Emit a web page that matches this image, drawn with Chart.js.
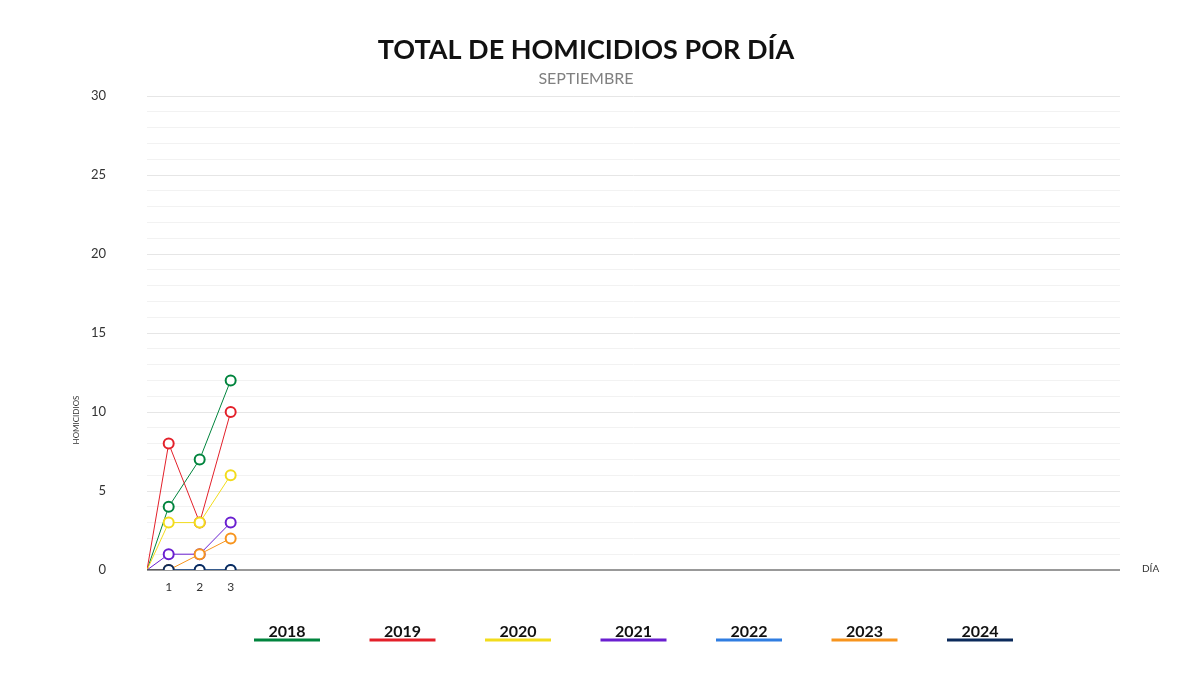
<!DOCTYPE html>
<html lang="es">

<head>
  <meta charset="UTF-8" />
  <title>Total de homicidios por día</title>
  <style>
    html, body { margin: 0; padding: 0; background: #fff; }
    #wrap { width: 1200px; height: 675px; }
  </style>
</head>

<body>
  <div id="wrap"><canvas id="myChart"></canvas></div>

  <script src="https://cdn.jsdelivr.net/npm/chart.js"></script>

  <script>
    // data
    const days = [1, 2, 3];
    const years = ["2018", "2019", "2020", "2021", "2022", "2023", "2024"];
    const colors = ["#00843d", "#e3202a", "#f2dc1c", "#6a1fd0", "#2f7de1", "#f7941d", "#0b2a5b"];
    const v2018 = [4, 7, 12];
    const v2019 = [8, 3, 10];
    const v2020 = [3, 3, 6];
    const v2021 = [1, 1, 3];
    const v2022 = [0, 0, 0];
    const v2023 = [0, 1, 2];
    const v2024 = [0, 0, 0];
    const yTicks = [0, 5, 10, 15, 20, 25, 30];

    const series = [v2018, v2019, v2020, v2021, v2022, v2023, v2024];
    const X_MIN = 0.3;
    const X_MAX = 31.7;
    const FONT = "Lato, 'Open Sans', sans-serif";

    const datasets = series.map((vals, i) => ({
      label: years[i],
      data: [{ x: X_MIN, y: 0 }].concat(days.map((d, j) => ({ x: d, y: vals[j] }))),
      borderColor: colors[i],
      borderWidth: 1,
      pointBorderColor: colors[i],
      pointBackgroundColor: "#fff",
      pointBorderWidth: 2,
      pointRadius: (c) => (c.dataIndex === 0 ? 0 : 5),
      tension: 0,
      order: series.length - 1 - i,
    }));

    // headings, axis names and the legend under the plot
    const decorations = {
      id: "decorations",
      afterDraw(chart) {
        const c = chart.ctx;
        const area = chart.chartArea;
        c.save();
        c.textAlign = "center";
        c.textBaseline = "middle";
        c.fillStyle = "#111";
        c.font = "bold 27px " + FONT;
        c.fillText("TOTAL DE HOMICIDIOS POR DÍA", 586, 50);
        c.fillStyle = "#808080";
        c.font = "16px " + FONT;
        c.fillText("SEPTIEMBRE", 586, 79);

        c.fillStyle = "#333";
        c.font = "10px " + FONT;
        c.textAlign = "left";
        c.fillText("DÍA", area.right + 22, area.bottom - 1);

        c.save();
        c.translate(76, 420);
        c.rotate(-Math.PI / 2);
        c.textAlign = "center";
        c.font = "8px " + FONT;
        c.fillText("HOMICIDIOS", 0, 0);
        c.restore();

        const mid = (area.left + area.right) / 2;
        const step = 115.5;
        years.forEach((y, i) => {
          const cx = mid + (i - (years.length - 1) / 2) * step;
          c.fillStyle = "#111";
          c.font = "bold 16px " + FONT;
          c.textAlign = "center";
          c.textBaseline = "alphabetic";
          c.fillText(y, cx, 637);
          c.strokeStyle = colors[i];
          c.lineWidth = 3;
          c.beginPath();
          c.moveTo(cx - 33, 640);
          c.lineTo(cx + 33, 640);
          c.stroke();
        });
        c.restore();
      },
    };

    new Chart(document.getElementById("myChart"), {
      type: "line",
      data: { datasets },
      plugins: [decorations],
      options: {
        responsive: true,
        maintainAspectRatio: false,
        animation: false,
        layout: { padding: { top: 96, right: 80, bottom: 75, left: 0 } },
        plugins: {
          legend: { display: false },
          title: { display: false },
          tooltip: { enabled: false },
        },
        scales: {
          x: {
            type: "linear",
            min: X_MIN,
            max: X_MAX,
            afterBuildTicks: (s) => { s.ticks = days.map((d) => ({ value: d })); },
            afterFit: (s) => { s.height = 30; },
            border: { display: false },
            grid: { display: false },
            ticks: {
              autoSkip: false,
              maxRotation: 0,
              padding: 2,
              color: "#333",
              font: { family: FONT, size: 12 },
            },
          },
          y: {
            min: 0,
            max: 30,
            afterFit: (s) => { s.width = 147; },
            border: { display: false },
            grid: {
              drawTicks: false,
              color: (c) => (c.tick.value === 0 ? "#999" : c.tick.value % 5 === 0 ? "#e6e6e6" : "#f2f2f2"),
              lineWidth: (c) => (c.tick.value === 0 ? 2 : 1),
            },
            ticks: {
              stepSize: 1,
              autoSkip: false,
              padding: 41,
              color: "#333",
              font: { family: FONT, size: 13 },
              callback: (v) => (yTicks.includes(v) ? String(v) : ""),
            },
          },
        },
      },
    });
  </script>
</body>

</html>
